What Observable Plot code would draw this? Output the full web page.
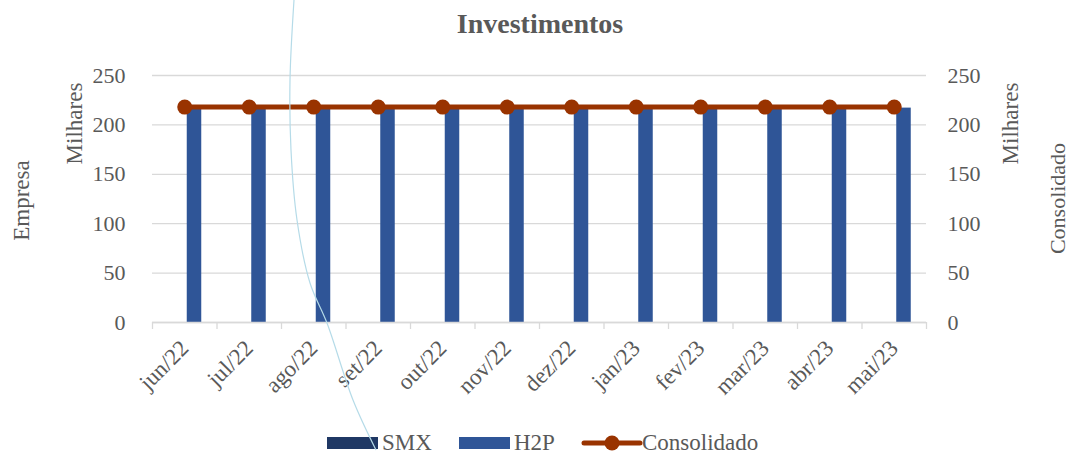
<!DOCTYPE html>
<html><head><meta charset="utf-8">
<script src="https://cdn.jsdelivr.net/npm/d3@7"></script>
<script src="https://cdn.jsdelivr.net/npm/@observablehq/plot@0.6"></script>
<style>
body{margin:0;background:#fff;}
#wrap{position:relative;width:1070px;height:455px;font-family:"Liberation Serif",serif;color:#595959;}
#title{position:absolute;left:0;width:1080px;top:8px;text-align:center;font-size:28px;font-weight:bold;color:#595959;}
#legend{position:absolute;top:430px;left:0;width:1070px;height:25px;}
#legend svg{position:absolute;left:0;top:0;}
#deco{position:absolute;left:0;top:0;pointer-events:none;}
</style></head>
<body>
<div id="wrap">
<div id="chart"></div>
<div id="title">Investimentos</div>
<div id="legend"></div>
</div>
<script>
const months = ["jun/22","jul/22","ago/22","set/22","out/22","nov/22","dez/22","jan/23","fev/23","mar/23","abr/23","mai/23"];
const smx = [0,0,0,0,0,0,0,0,0,0,0,0];
const h2p = [217,217,217,217,217,217,217,217,217,217,217,217];
const consolidado = [218,218,218,218,218,218,218,218,218,218,218,218];
const yTicks = [0,50,100,150,200,250];
const seriesNames = ["SMX","H2P","Consolidado"];
const colors = {SMX:"#1F3864", H2P:"#2F5597", Consolidado:"#993300"};

const smxData = months.map((m,i)=>({month:m, value:smx[i]}));
const h2pData = months.map((m,i)=>({month:m, value:h2p[i]}));
const consData = months.map((m,i)=>({month:m, value:consolidado[i]}));

const W = 1070, H = 455, ML = 152, MR = 144, MT = 75, MB = 133;
const band = (W - ML - MR) / months.length;
const font = "Liberation Serif, serif";
const gray = "#595959";

const chart = Plot.plot({
  width: W, height: H,
  marginLeft: ML, marginRight: MR, marginTop: MT, marginBottom: MB,
  style: {fontFamily: font, color: gray, background: "transparent", overflow: "visible"},
  x: {domain: months, padding: 0, type: "band", round: false},
  y: {domain: [0, 250]},
  marks: [
    Plot.gridY(yTicks, {stroke: "#d9d9d9", strokeOpacity: 1, strokeWidth: 1.3}),
    Plot.axisY({ticks: yTicks, anchor: "left", tickSize: 0, tickPadding: 27, fontSize: 22, label: null}),
    Plot.axisY({ticks: yTicks, anchor: "right", tickSize: 0, tickPadding: 21, fontSize: 22, label: null, textAnchor: "start"}),
    Plot.axisX({tickSize: 7, text: null, dx: -band/2, stroke: "#d9d9d9", strokeWidth: 1.3, label: null}),
    Plot.axisX({ticks: [months[months.length-1]], tickSize: 7, text: null, dx: band/2, stroke: "#d9d9d9", strokeWidth: 1.3, label: null}),
    Plot.axisX({tickSize: 0, tickRotate: -45, tickPadding: 22, dx: 0, fontSize: 23, label: null}),
    Plot.barY(smxData, {x: "month", y: "value", fill: colors.SMX, insetLeft: 15.25, insetRight: band - 29.75}),
    Plot.barY(h2pData, {x: "month", y: "value", fill: colors.H2P, insetLeft: 34.75, insetRight: band - 49.25}),
    Plot.ruleY([0], {stroke: "#d9d9d9", strokeWidth: 1.3}),
    Plot.lineY(consData, {x: "month", y: "value", stroke: colors.Consolidado, strokeWidth: 5}),
    Plot.dot(consData, {x: "month", y: "value", fill: colors.Consolidado, r: 7.5, stroke: "none"}),
    Plot.text(["Milhares"], {frameAnchor: "top-left", textAnchor: "middle", dx: -87, dy: 48, rotate: -90, fontSize: 23, fill: gray}),
    Plot.text(["Milhares"], {frameAnchor: "top-right", textAnchor: "middle", dx: 75, dy: 48, rotate: -90, fontSize: 23, fill: gray}),
    Plot.text(["Empresa"], {frameAnchor: "top-left", textAnchor: "middle", dx: -140, dy: 125, rotate: -90, fontSize: 23, fill: gray}),
    Plot.text(["Consolidado"], {frameAnchor: "top-right", textAnchor: "middle", dx: 123, dy: 123, rotate: -90, fontSize: 22, fill: gray})
  ]
});
document.getElementById("chart").appendChild(chart);

// decorative light-blue curve (image artifact in reference)
const ns = "http://www.w3.org/2000/svg";
const deco = document.createElementNS(ns, "svg");
deco.setAttribute("id","deco"); deco.setAttribute("width", W); deco.setAttribute("height", H);
const pts = [[294,0],[290,80],[291,150],[297,220],[310,283],[327,323],[353,400],[376,450]];
const p = document.createElementNS(ns, "path");
p.setAttribute("d", d3.line().curve(d3.curveCatmullRom)(pts));
p.setAttribute("fill","none"); p.setAttribute("stroke","#b5dbe8"); p.setAttribute("stroke-width","1.2");
deco.appendChild(p);
document.getElementById("wrap").appendChild(deco);

// legend
const lg = d3.select("#legend").append("svg").attr("width", W).attr("height", 25);
const items = [
  {name: seriesNames[0], type: "rect", x: 327, tx: 382},
  {name: seriesNames[1], type: "rect", x: 459, tx: 514},
  {name: seriesNames[2], type: "line", x: 584, tx: 642}
];
for (const it of items) {
  if (it.type === "rect") {
    lg.append("rect").attr("x", it.x).attr("y", 7).attr("width", 51).attr("height", 12).attr("fill", colors[it.name]);
  } else {
    lg.append("line").attr("x1", it.x).attr("x2", it.x + 56).attr("y1", 13).attr("y2", 13).attr("stroke", colors[it.name]).attr("stroke-width", 5).attr("stroke-linecap","round");
    lg.append("circle").attr("cx", it.x + 28).attr("cy", 13).attr("r", 7.5).attr("fill", colors[it.name]);
  }
  lg.append("text").attr("x", it.tx).attr("y", 20).attr("font-family", font).attr("font-size", 23).attr("fill", gray).text(it.name);
}
</script>
</body></html>
